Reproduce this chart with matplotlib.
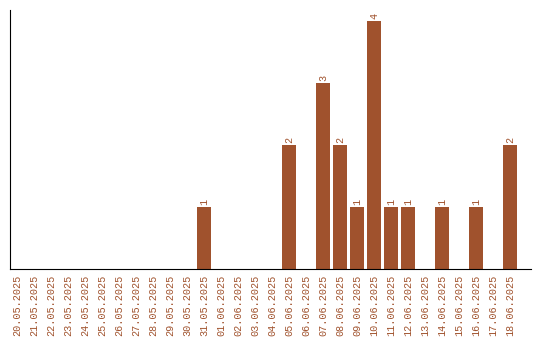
import matplotlib
matplotlib.use("Agg")
import matplotlib.pyplot as plt
import numpy as np

dates = [
    "20.05.2025", "21.05.2025", "22.05.2025", "23.05.2025", "24.05.2025",
    "25.05.2025", "26.05.2025", "27.05.2025", "28.05.2025", "29.05.2025",
    "30.05.2025", "31.05.2025", "01.06.2025", "02.06.2025", "03.06.2025",
    "04.06.2025", "05.06.2025", "06.06.2025", "07.06.2025", "08.06.2025",
    "09.06.2025", "10.06.2025", "11.06.2025", "12.06.2025", "13.06.2025",
    "14.06.2025", "15.06.2025", "16.06.2025", "17.06.2025", "18.06.2025",
]
counts = [0, 0, 0, 0, 0, 0, 0, 0, 0, 0,
          0, 1, 0, 0, 0, 0, 2, 0, 3, 2,
          1, 4, 1, 1, 0, 1, 0, 1, 0, 2]

color = "#A0522D"
plt.rcParams["font.family"] = ["Liberation Mono", "DejaVu Sans Mono"]

fig = plt.figure(figsize=(5.4, 3.4), dpi=100)
ax = fig.add_axes([10 / 540, 71 / 340, 520.5 / 540, 259 / 340])

x = np.arange(len(dates))
ax.bar(x, counts, width=0.82, color=color)
for xi, c in zip(x, counts):
    if c > 0:
        ax.text(xi, c + 0.04, str(c), rotation=90, ha="center", va="bottom",
                fontsize=7.3, color=color)

ax.set_xlim(-0.44, len(dates) + 0.18)
ax.set_ylim(0, 4.18)
ax.set_xticks(x)
ax.set_xticklabels(dates, rotation=90, fontsize=7.3, color=color)
ax.set_yticks([])
ax.tick_params(axis="x", length=0, pad=4)
ax.spines["top"].set_visible(False)
ax.spines["right"].set_visible(False)

fig.savefig("out.png", dpi=100)
